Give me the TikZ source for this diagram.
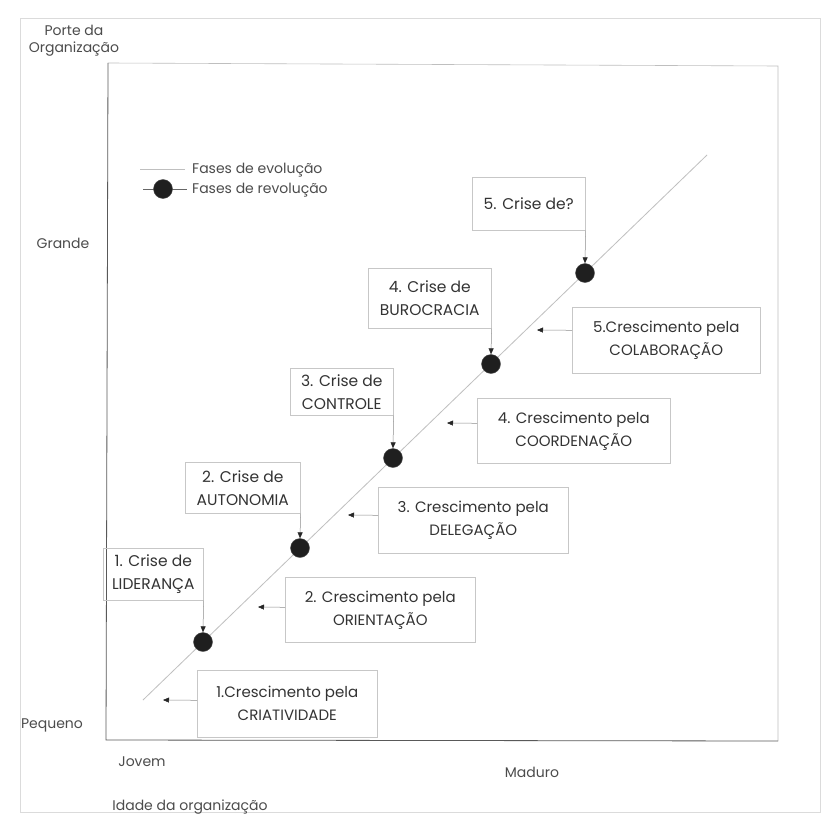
\documentclass[tikz,border=0pt]{standalone}
\usepackage{fontspec}
\setmainfont{Poppins}
\usetikzlibrary{arrows.meta}

\begin{document}
\begin{tikzpicture}[x=1pt,y=-1pt,
  boxtxt/.style={text=black!80, font=\fontsize{15}{23}\selectfont, align=center, inner sep=0pt},
  axlbl/.style={text=black!70, font=\fontsize{14}{17}\selectfont, align=center, inner sep=0pt},
  crisebox/.style={boxtxt, font=\fontsize{15.5}{23}\selectfont, draw=black!22, line width=0.6pt, anchor=north west},
  growbox/.style={boxtxt, draw=black!22, line width=0.6pt, anchor=north west},
  revdot/.style={circle, fill=black!88, draw=black!70, minimum size=19pt, inner sep=0pt},
  tip/.style={-{Triangle[length=6pt,width=5pt,color=black!85]}, draw=black!45, line width=0.5pt},
]
\useasboundingbox (0,0) rectangle (822,816);
\fill[white] (0,0) rectangle (822,816);

% outer frame and plot area
\draw[black!14, line width=0.6pt] (20,18) rectangle (820,812);
\draw[black!25, line width=0.6pt] (108,63) -- (778,66) -- (778,741);
\draw[black!65, line width=0.8pt] (108,63) -- (106,740) -- (778,741);

% axis labels
\node[axlbl] (porte) at (74,41) {Porte da\\Organização};
\node[axlbl] (grande) at (63,243) {Grande};
\node[axlbl] (pequeno) at (52,725) {Pequeno};
\node[axlbl] (jovem) at (142,762) {Jovem};
\node[axlbl] (maduro) at (532,772) {Maduro};
\node[axlbl] (idade) at (190,807) {Idade da organização};

% legend
\draw[black!25, line width=0.7pt] (140,169) -- (185,169);
\draw[black!60, line width=0.7pt] (143,189) -- (187,189);
\node[revdot] (ldot) at (163,189) {};
\node[axlbl, anchor=west] (levo) at (192,170) {Fases de evolução};
\node[axlbl, anchor=west] (lrev) at (192,190) {Fases de revolução};

% evolution line
\draw[black!25, line width=0.8pt] (143,700) -- (707,155);

% revolution points
\node[revdot] (d1) at (203,642) {};
\node[revdot] (d2) at (300,548) {};
\node[revdot] (d3) at (393,458) {};
\node[revdot] (d4) at (491,364) {};
\node[revdot] (d5) at (585,273) {};

% crises
\node[crisebox, minimum width=100pt, minimum height=52pt] (c1) at (103,548) {1. Crise de\\LIDERANÇA};
\node[crisebox, minimum width=115pt, minimum height=51pt] (c2) at (185,462) {2. Crise de\\AUTONOMIA};
\node[crisebox, minimum width=103pt, minimum height=47pt] (c3) at (290,368) {3. Crise de\\CONTROLE};
\node[crisebox, minimum width=123pt, minimum height=60pt] (c4) at (368,268) {4. Crise de\\BUROCRACIA};
\node[crisebox, minimum width=113pt, minimum height=53pt] (c5) at (472,177) {5. Crise de?};

\draw[tip] (c1.south east) -- (d1.north);
\draw[tip] (c2.south east) -- (d2.north);
\draw[tip] (c3.south east) -- (d3.north);
\draw[tip] (c4.south east) -- (d4.north);
\draw[tip] (c5.south east) -- (d5.north);

% growth phases
\node[growbox, minimum width=180pt, minimum height=67pt] (g1) at (197,670) {1.Crescimento pela\\CRIATIVIDADE};
\node[growbox, minimum width=190pt, minimum height=65pt] (g2) at (285,577) {2. Crescimento pela\\ORIENTAÇÃO};
\node[growbox, minimum width=190pt, minimum height=66pt] (g3) at (378,487) {3. Crescimento pela\\DELEGAÇÃO};
\node[growbox, minimum width=193pt, minimum height=65pt] (g4) at (477,398) {4. Crescimento pela\\COORDENAÇÃO};
\node[growbox, minimum width=188pt, minimum height=66pt] (g5) at (572,307) {5.Crescimento pela\\COLABORAÇÃO};

\coordinate (t1) at (163,700);
\coordinate (t2) at (258,607);
\coordinate (t3) at (348,515);
\coordinate (t4) at (447,423);
\coordinate (t5) at (537,330);

\draw[tip] ([yshift=3.5pt]g1.west) -- (t1);
\draw[tip] ([yshift=2.5pt]g2.west) -- (t2);
\draw[tip] ([yshift=5pt]g3.west) -- (t3);
\draw[tip] ([yshift=7.5pt]g4.west) -- (t4);
\draw[tip] ([yshift=10pt]g5.west) -- (t5);
\end{tikzpicture}
\end{document}
